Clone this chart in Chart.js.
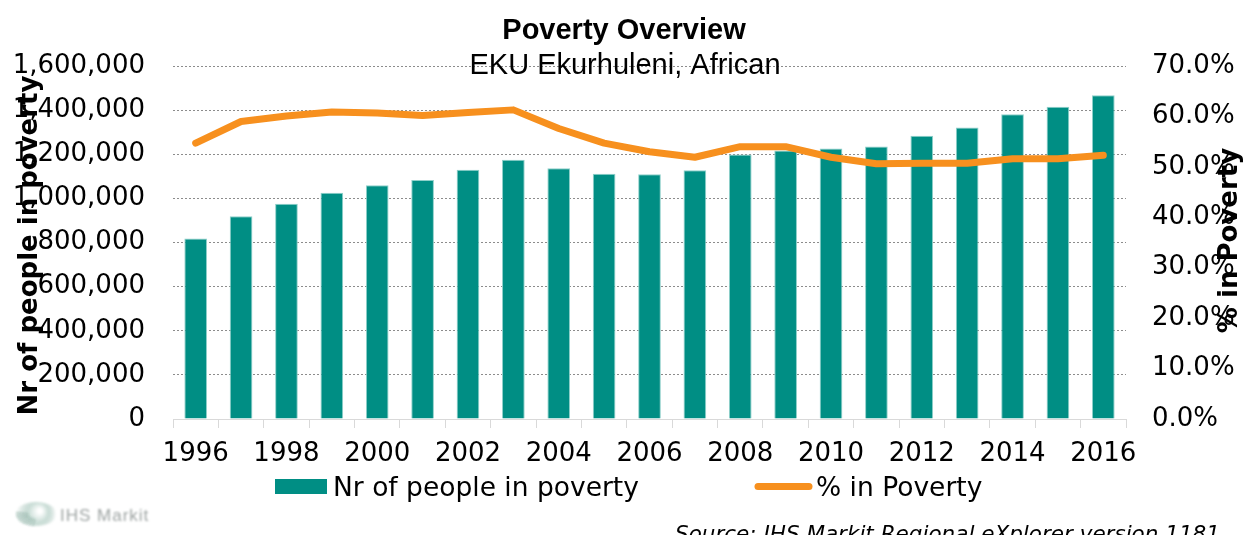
<!DOCTYPE html>
<html>
<head>
<meta charset="utf-8">
<title>Poverty Overview</title>
<script src="https://cdn.jsdelivr.net/npm/chart.js@4.4.1/dist/chart.umd.min.js"></script>
<style>
  html, body { margin: 0; padding: 0; background: #ffffff; }
  #wrap { width: 1243px; height: 535px; position: relative; }
</style>
</head>
<body>
<div id="wrap"><canvas id="chart" width="1243" height="535"></canvas></div>
<script>
// Years on the category axis
const years = ['1996', '1997', '1998', '1999', '2000', '2001', '2002', '2003', '2004', '2005',
               '2006', '2007', '2008', '2009', '2010', '2011', '2012', '2013', '2014', '2015', '2016'];

// Number of people in poverty (left axis)
const peopleInPoverty = [818000, 919000, 976000, 1026000, 1059000, 1083000, 1130000, 1175000,
                         1137000, 1112000, 1109000, 1127000, 1199000, 1217000, 1226000, 1235000,
                         1284000, 1321000, 1381000, 1415000, 1467000];

// Share of population in poverty (right axis, fraction)
const povertyShare = [0.547, 0.590, 0.601, 0.609, 0.607, 0.602, 0.608, 0.613, 0.576, 0.547,
                      0.530, 0.519, 0.540, 0.540, 0.519, 0.506, 0.507, 0.507, 0.516, 0.516, 0.523];

// Axis ranges
const countTicks = [0, 1600000, 200000];   // min, max, step
const shareTicks = [0, 0.7, 0.1];

const TEAL = '#008E84';
const TEAL_EDGE = '#8fd0ca';
const ORANGE = '#F7901E';
const FONT = '"DejaVu Sans", Verdana, sans-serif';

const fmtCount = v => Math.round(v).toLocaleString('en-US');
const fmtShare = v => (v * 100).toFixed(1) + '%';

// Titles, axis captions, legend and footer
const decorations = {
  id: 'decorations',
  afterDraw(chart) {
    const ctx = chart.ctx;
    const area = chart.chartArea;
    const midY = (area.top + area.bottom) / 2;
    ctx.save();

    // Title + subtitle
    ctx.fillStyle = '#000';
    ctx.textAlign = 'center';
    ctx.textBaseline = 'alphabetic';
    ctx.font = 'bold 29px "Liberation Sans", Arial, sans-serif';
    ctx.fillText('Poverty Overview', 624, 39);
    ctx.font = '29px "Liberation Sans", Arial, sans-serif';
    ctx.fillText('EKU Ekurhuleni, African', 625, 74);

    // Axis captions (rotated)
    ctx.font = 'bold 26px ' + FONT;
    ctx.textBaseline = 'alphabetic';
    ctx.save();
    ctx.translate(37, midY + 3);
    ctx.rotate(-Math.PI / 2);
    ctx.fillText('Nr of people in poverty', 0, 0);
    ctx.restore();
    ctx.save();
    ctx.translate(1237, midY - 2);
    ctx.rotate(-Math.PI / 2);
    ctx.fillText('% in Poverty', 0, 0);
    ctx.restore();

    // Legend
    ctx.font = '26.5px ' + FONT;
    ctx.textAlign = 'left';
    ctx.textBaseline = 'alphabetic';
    ctx.fillStyle = TEAL;
    ctx.fillRect(275, 479, 52, 15);
    ctx.fillStyle = '#000';
    ctx.fillText(chart.data.datasets[0].label, 333, 496);
    ctx.strokeStyle = ORANGE;
    ctx.lineWidth = 7;
    ctx.lineCap = 'round';
    ctx.beginPath();
    ctx.moveTo(758, 486.5);
    ctx.lineTo(809, 486.5);
    ctx.stroke();
    ctx.fillStyle = '#000';
    ctx.fillText(chart.data.datasets[1].label, 816, 496);

    // Footer: logo and source
    ctx.save();
    ctx.filter = 'blur(1.2px)';
    const g = ctx.createRadialGradient(40, 511, 2, 36, 514, 20);
    g.addColorStop(0, '#ffffff');
    g.addColorStop(0.45, '#c9ddd6');
    g.addColorStop(1, 'rgba(160,190,180,0)');
    ctx.fillStyle = g;
    ctx.beginPath();
    ctx.ellipse(36, 514, 21, 12, 0, 0, Math.PI * 2);
    ctx.fill();
    ctx.strokeStyle = '#a9c4bb';
    ctx.lineWidth = 1.5;
    ctx.lineCap = 'butt';
    for (let i = 0; i < 9; i++) {
      const a = Math.PI * (0.55 + i * 0.06);
      ctx.beginPath();
      ctx.moveTo(36 + Math.cos(a) * 8, 514 + Math.sin(a) * 5);
      ctx.lineTo(36 + Math.cos(a) * 20, 514 + Math.sin(a) * 12);
      ctx.stroke();
    }
    ctx.fillStyle = '#9ea4a3';
    ctx.font = '17px "Liberation Sans", Arial, sans-serif';
    ctx.letterSpacing = '1px';
    ctx.fillText('IHS Markit', 60, 521);
    ctx.restore();

    ctx.fillStyle = '#000';
    ctx.font = 'italic 21.5px ' + FONT;
    ctx.textAlign = 'left';
    ctx.fillText('Source: IHS Markit Regional eXplorer version 1181', 675, 541);

    ctx.restore();
  }
};

new Chart(document.getElementById('chart'), {
  type: 'bar',
  data: {
    labels: years,
    datasets: [
      {
        type: 'bar',
        label: 'Nr of people in poverty',
        data: peopleInPoverty,
        yAxisID: 'y',
        backgroundColor: TEAL,
        borderColor: TEAL_EDGE,
        borderWidth: 1,
        barPercentage: 0.5,
        categoryPercentage: 1.0,
        order: 2
      },
      {
        type: 'line',
        label: '% in Poverty',
        data: povertyShare,
        yAxisID: 'y1',
        borderColor: ORANGE,
        backgroundColor: ORANGE,
        borderWidth: 7,
        borderCapStyle: 'round',
        borderJoinStyle: 'round',
        pointRadius: 0,
        tension: 0,
        fill: false,
        order: 1
      }
    ]
  },
  options: {
    responsive: false,
    animation: false,
    devicePixelRatio: 1,
    layout: { padding: { top: 66, left: 0, right: 0, bottom: 0 } },
    plugins: {
      legend: { display: false },
      title: { display: false },
      tooltip: { enabled: false }
    },
    scales: {
      x: {
        offset: true,
        grid: {
          display: true,
          offset: true,
          drawOnChartArea: false,
          drawTicks: true,
          tickLength: 9,
          color: '#d9d9d9'
        },
        border: { display: true, color: '#d9d9d9', width: 1 },
        ticks: {
          autoSkip: false,
          maxRotation: 0,
          minRotation: 0,
          padding: 11,
          color: '#000',
          font: { family: FONT, size: 26 },
          callback: function (value, index) {
            return index % 2 === 0 ? this.getLabelForValue(value) : '';
          }
        },
        afterFit(scale) { scale.height = 116; }
      },
      y: {
        position: 'left',
        min: countTicks[0],
        max: countTicks[1],
        grid: {
          drawTicks: false,
          color: ctx => (ctx.tick && ctx.tick.value === 0) ? 'rgba(0,0,0,0)' : '#8c8c8c',
          lineWidth: 1
        },
        border: { display: false, dash: [2, 2] },
        ticks: {
          stepSize: countTicks[2],
          padding: 28,
          color: '#000',
          font: { family: FONT, size: 26 },
          callback: v => fmtCount(v)
        },
        afterFit(scale) { scale.width = 173; }
      },
      y1: {
        position: 'right',
        min: shareTicks[0],
        max: shareTicks[1],
        grid: { display: false, drawTicks: false },
        border: { display: false },
        ticks: {
          stepSize: shareTicks[2],
          padding: 26,
          color: '#000',
          font: { family: FONT, size: 26 },
          callback: v => fmtShare(v)
        },
        afterFit(scale) { scale.width = 117; }
      }
    }
  },
  plugins: [decorations]
});
</script>
</body>
</html>
